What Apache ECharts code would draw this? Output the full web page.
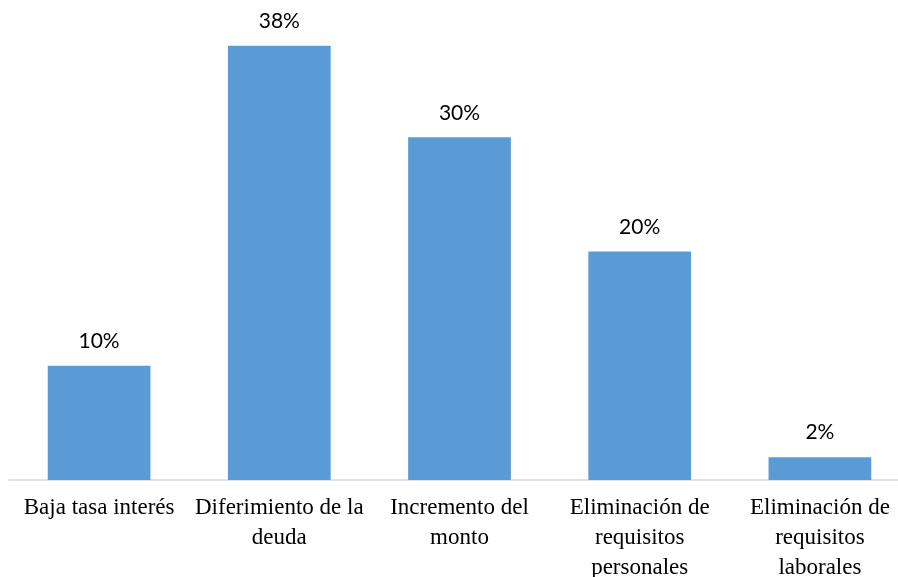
<!DOCTYPE html>
<html><head><meta charset="utf-8">
<script src="https://cdn.jsdelivr.net/npm/echarts@6/dist/echarts.min.js"></script>
<style>html,body{margin:0;padding:0;background:#fff;overflow:hidden}#c{width:898px;height:577px}</style>
</head><body><div id="c"></div>
<script>
const categories = ["Baja tasa interés", "Diferimiento de la\ndeuda", "Incremento del\nmonto", "Eliminación de\nrequisitos\npersonales", "Eliminación de\nrequisitos\nlaborales"];
const values = [10, 38, 30, 20, 2];
const chart = echarts.init(document.getElementById('c'));
chart.setOption({
  animation: false,
  grid: {left: 9, width: 901, top: 23, bottom: 97, containLabel: false, outerBoundsMode: 'none'},
  xAxis: {
    type: 'category', data: categories,
    axisLine: {show: true, lineStyle: {color: '#d9d9d9', width: 1.5}},
    axisTick: {show: false},
    axisLabel: {interval: 0, margin: 13, color: '#000', fontFamily: 'Liberation Serif', fontSize: 23, lineHeight: 30}
  },
  yAxis: {type: 'value', min: 0, max: 40, show: false, splitLine: {show: false}},
  series: [{
    type: 'bar', data: values, barCategoryGap: '43%',
    itemStyle: {color: '#5b9bd5'},
    label: {show: true, position: 'top', distance: 14, formatter: '{c}%', color: '#000', fontFamily: 'Lato', fontSize: 21}
  }]
});
</script></body></html>
